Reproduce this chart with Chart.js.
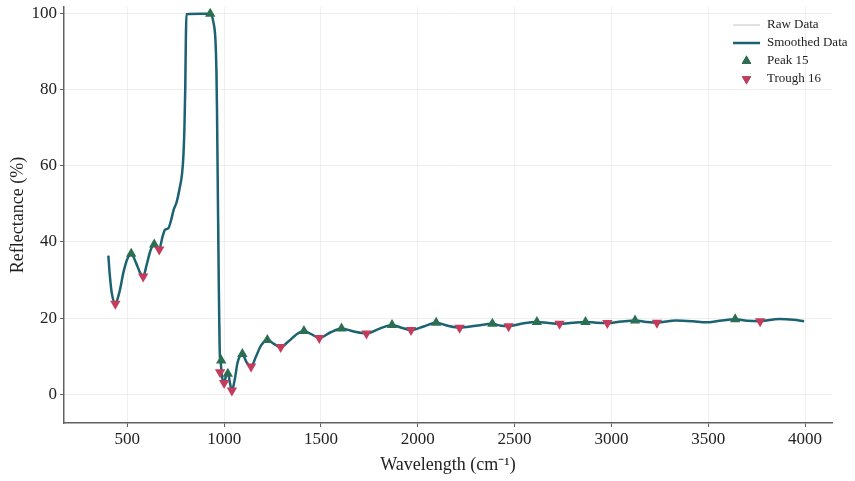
<!DOCTYPE html>
<html>
<head>
<meta charset="utf-8">
<script src="https://cdn.jsdelivr.net/npm/chart.js@4/dist/chart.umd.min.js"></script>
<style>
  html, body { margin: 0; padding: 0; background: #fff; }
  #wrap { width: 855px; height: 481px; position: relative; }
</style>
</head>
<body>
<div id="wrap"><canvas id="c"></canvas></div>
<script>
// spectrum (wavenumber, reflectance %)
var waveNums = [402, 410, 420, 438, 460, 480, 500, 520, 545, 565, 582, 600, 620, 639, 652, 665, 680, 695, 712, 725,
  740, 755, 770, 783, 790, 795, 799, 802, 805, 880, 928, 945, 955, 960, 963, 966, 969, 972, 975, 978,
  982, 988, 1000, 1012, 1019, 1030, 1040, 1055, 1070, 1094, 1115, 1139, 1165, 1190, 1223, 1255, 1292, 1330, 1370, 1412,
  1450, 1491, 1550, 1606, 1670, 1735, 1800, 1867, 1915, 1965, 2030, 2095, 2155, 2216, 2300, 2385, 2430, 2469, 2540, 2615,
  2675, 2732, 2800, 2866, 2920, 2979, 3050, 3122, 3180, 3235, 3333, 3420, 3488, 3560, 3639, 3700, 3768, 3866, 3940, 3995];
var smoothVals = [36.4, 31, 26.5, 23.8, 27, 32, 35.5, 36.9, 34.5, 32, 30.9, 34, 37.8, 39.3, 38.6, 38.0, 41, 43.2, 43.6, 45.5,
  48.5, 50.5, 54, 58, 63, 70, 80, 92, 99.7, 99.8, 99.8, 97.5, 93, 85, 75, 60, 45, 30, 18, 10,
  8.5, 5, 3, 5.5, 5.8, 3, 1, 4, 8.5, 10.6, 8.5, 7.3, 10, 12.8, 14.3, 13.3, 12.4, 13.8, 15.6, 16.6,
  15.8, 14.8, 16.3, 17.3, 16.5, 16, 17.2, 18.2, 17.5, 16.9, 17.8, 18.8, 18, 17.5, 18, 18.5, 18, 17.9, 18.6, 19,
  18.7, 18.5, 18.8, 19, 18.8, 18.7, 19.1, 19.4, 19, 18.8, 19.4, 19.2, 18.9, 19.3, 19.7, 19.3, 19.2, 19.8, 19.6, 19.2];
var rawVals = smoothVals.slice();   // raw trace sits under the smoothed one

var peakX = [520, 639, 928, 985, 1019, 1094, 1223, 1412, 1606, 1867, 2095, 2385, 2615, 2866, 3122, 3639];
var peakY = [36.9, 39.3, 99.8, 8.9, 5.4, 10.6, 14.3, 16.6, 17.3, 18.2, 18.8, 18.5, 19, 19, 19.4, 19.7];
var troughX = [438, 582, 665, 979, 1000, 1040, 1139, 1292, 1491, 1735, 1965, 2216, 2469, 2732, 2979, 3235, 3768];
var troughY = [23.8, 30.9, 38, 5.8, 3, 1, 7.3, 12.4, 14.8, 16, 16.9, 17.5, 17.9, 18.5, 18.7, 18.8, 19.2];

var xTicks = [500, 1000, 1500, 2000, 2500, 3000, 3500, 4000];
var yTicks = [0, 20, 40, 60, 80, 100];

var legendItems = ["Raw Data", "Smoothed Data", "Peak 15", "Trough 16"];

var C = { line: "#1b6272", raw: "#c8c8c8", peak: "#2b6f52", trough: "#c43c5c", axis: "#606060", grid: "#efefef", text: "#222" };
var SERIF = "'Liberation Serif', 'Times New Roman', serif";

function pts(xs, ys) {
  return xs.map(function(x, i) { return { x: x, y: ys[i] }; });
}

// legend drawn inside the plot, top-right
var cornerLegend = {
  id: "cornerLegend",
  afterDraw: function(chart) {
    var ctx = chart.ctx;
    var x0 = 733, x1 = 760, tx = 767;
    var rows = [25, 43, 61, 79];
    ctx.save();
    ctx.font = "13px " + SERIF;
    ctx.fillStyle = C.text;
    ctx.textBaseline = "middle";
    // raw
    ctx.strokeStyle = C.raw; ctx.lineWidth = 1;
    ctx.beginPath(); ctx.moveTo(x0, rows[0]); ctx.lineTo(x1, rows[0]); ctx.stroke();
    // smoothed
    ctx.strokeStyle = C.line; ctx.lineWidth = 2.5;
    ctx.beginPath(); ctx.moveTo(x0, rows[1]); ctx.lineTo(x1, rows[1]); ctx.stroke();
    var cx = (x0 + x1) / 2;
    Chart.helpers.drawPoint(ctx, { pointStyle: "triangle", radius: 5.5, rotation: 0, borderWidth: 0 }, cx, rows[2]);
    ctx.fillStyle = C.peak; ctx.fill();
    Chart.helpers.drawPoint(ctx, { pointStyle: "triangle", radius: 5.5, rotation: 180, borderWidth: 0 }, cx, rows[3]);
    ctx.fillStyle = C.trough; ctx.fill();
    ctx.fillStyle = C.text;
    legendItems.forEach(function(t, i) { ctx.fillText(t, tx, rows[i]); });
    ctx.restore();
  }
};

function keepTicks(list) {
  return function(scale) { scale.ticks = list.map(function(v) { return { value: v }; }); };
}
function plain(v) { return String(v); }

new Chart(document.getElementById("c").getContext("2d"), {
  type: "line",
  data: {
    datasets: [
      { label: "Troughs", data: pts(troughX, troughY), showLine: false, pointStyle: "triangle", rotation: 180,
        pointRadius: 6, pointBackgroundColor: C.trough, pointBorderWidth: 0, order: 0 },
      { label: "Peaks", data: pts(peakX, peakY), showLine: false, pointStyle: "triangle",
        pointRadius: 6, pointBackgroundColor: C.peak, pointBorderWidth: 0, order: 1 },
      { label: "Smoothed Data", data: pts(waveNums, smoothVals), borderColor: C.line, borderWidth: 2.5,
        pointRadius: 0, tension: 0.4, cubicInterpolationMode: "monotone", order: 2 },
      { label: "Raw Data", data: pts(waveNums, rawVals), borderColor: C.raw, borderWidth: 1,
        pointRadius: 0, order: 3 }
    ]
  },
  options: {
    responsive: true,
    maintainAspectRatio: false,
    animation: false,
    layout: { padding: { top: 7, right: 23, left: 0, bottom: 0 } },
    plugins: { legend: { display: false }, tooltip: { enabled: false } },
    scales: {
      x: {
        type: "linear", min: 173, max: 4139,
        afterBuildTicks: keepTicks(xTicks),
        afterFit: function(s) { s.height = 58; s.paddingLeft = 0; s.paddingRight = 0; },
        grid: { color: C.grid, lineWidth: 1, tickColor: C.axis, tickLength: 4 },
        border: { color: C.axis, width: 1.5 },
        ticks: { color: C.text, font: { family: SERIF, size: 17 }, padding: 2, maxRotation: 0, callback: plain },
        title: { display: true, text: "Wavelength (cm\u207B\u00B9)", color: C.text, font: { family: SERIF, size: 18 }, padding: { top: 0, bottom: 5 } }
      },
      y: {
        min: -7.5, max: 101.6,
        afterBuildTicks: keepTicks(yTicks),
        afterFit: function(s) { s.width = 64; s.paddingTop = 0; s.paddingBottom = 0; },
        grid: { color: C.grid, lineWidth: 1, tickColor: C.axis, tickLength: 4 },
        border: { color: C.axis, width: 1.5 },
        ticks: { color: C.text, font: { family: SERIF, size: 17 }, padding: 3, callback: plain },
        title: { display: true, text: "Reflectance (%)", color: C.text, font: { family: SERIF, size: 18 }, padding: { top: 7, bottom: 0 } }
      }
    }
  },
  plugins: [cornerLegend]
});
</script>
</body>
</html>
